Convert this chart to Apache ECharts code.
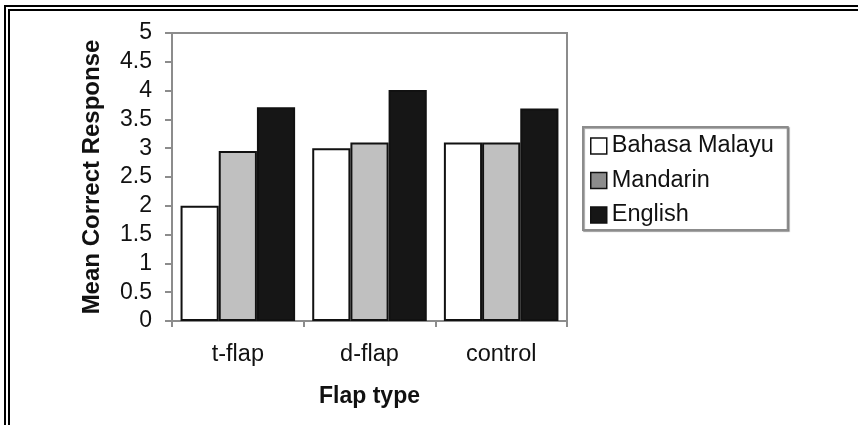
<!DOCTYPE html>
<html>
<head>
<meta charset="utf-8">
<script src="https://cdn.jsdelivr.net/npm/echarts@6/dist/echarts.min.js"></script>
<style>
  html, body { margin: 0; padding: 0; background: #fff; }
  #frame1 { position: absolute; left: 4px; top: 5px; right: -10px; bottom: -10px;
            border-top: 2px solid #000; border-left: 2px solid #000; }
  #frame2 { position: absolute; left: 8px; top: 9px; right: -10px; bottom: -10px;
            border-top: 2px solid #000; border-left: 2px solid #000; }
  #chart { position: absolute; left: 0; top: 0; width: 858px; height: 425px; }
</style>
</head>
<body>
<div id="frame1"></div>
<div id="frame2"></div>
<div id="chart"></div>
<script>
// Flap types on the x axis
const categories = ['t-flap', 'd-flap', 'control'];
// Mean correct responses per language group
const bahasaMalayu = [2.0, 3.0, 3.1];
const mandarin = [2.95, 3.1, 3.1];
const english = [3.71, 4.01, 3.69];
const seriesNames = ['Bahasa Malayu', 'Mandarin', 'English'];

const FONT = '"Liberation Sans", Arial, sans-serif';
const chart = echarts.init(document.getElementById('chart'), null, { renderer: 'canvas' });

function barSeries(name, data, color) {
  return {
    name: name,
    type: 'bar',
    data: data,
    barGap: '0%',
    barCategoryGap: '13%',
    itemStyle: { color: color, borderColor: '#111', borderWidth: 2 },
    emphasis: { disabled: true }
  };
}

chart.setOption({
  animation: false,
  backgroundColor: 'transparent',
  grid: {
    left: 172, right: 291, top: 33, bottom: 104,
    show: true, borderColor: '#8c8c8c', borderWidth: 2, backgroundColor: '#fff'
  },
  legend: {
    orient: 'vertical',
    left: 583, top: 127,
    padding: [7, 14, 3, 7],
    itemGap: 10.5,
    itemWidth: 16, itemHeight: 16,
    icon: 'rect',
    borderColor: '#8c8c8c', borderWidth: 2,
    backgroundColor: '#fff',
    shadowColor: 'rgba(0,0,0,0.35)', shadowOffsetX: 1, shadowOffsetY: 1, shadowBlur: 1,
    textStyle: { fontFamily: FONT, fontSize: 23.5, color: '#111' },
    data: [
      { name: seriesNames[0], itemStyle: { color: '#fff', borderColor: '#111', borderWidth: 1.5 } },
      { name: seriesNames[1], itemStyle: { color: '#8c8c8c', borderColor: '#111', borderWidth: 1.5 } },
      { name: seriesNames[2], itemStyle: { color: '#161616', borderColor: '#111', borderWidth: 1.5 } }
    ]
  },
  xAxis: {
    type: 'category',
    data: categories,
    name: 'Flap type',
    nameLocation: 'middle',
    nameGap: 64,
    nameTextStyle: { fontFamily: FONT, fontSize: 23, fontWeight: 'bold', color: '#111' },
    axisLine: { lineStyle: { color: '#8c8c8c', width: 2 } },
    axisTick: { show: true, length: 6, interval: 0, lineStyle: { color: '#8c8c8c', width: 2 } },
    axisLabel: { fontFamily: FONT, fontSize: 23.5, color: '#111', margin: 22 }
  },
  yAxis: {
    type: 'value',
    min: 0, max: 5, interval: 0.5,
    name: 'Mean Correct Response',
    nameLocation: 'middle',
    nameGap: 68,
    nameTextStyle: { fontFamily: FONT, fontSize: 24, fontWeight: 'bold', color: '#111' },
    splitLine: { show: false },
    axisLine: { show: true, lineStyle: { color: '#8c8c8c', width: 2 } },
    axisTick: { show: true, length: 7, lineStyle: { color: '#8c8c8c', width: 2 } },
    axisLabel: { fontFamily: FONT, fontSize: 23, color: '#111', margin: 20 }
  },
  series: [
    barSeries(seriesNames[0], bahasaMalayu, '#ffffff'),
    barSeries(seriesNames[1], mandarin, '#c0c0c0'),
    barSeries(seriesNames[2], english, '#161616')
  ]
});
</script>
</body>
</html>
